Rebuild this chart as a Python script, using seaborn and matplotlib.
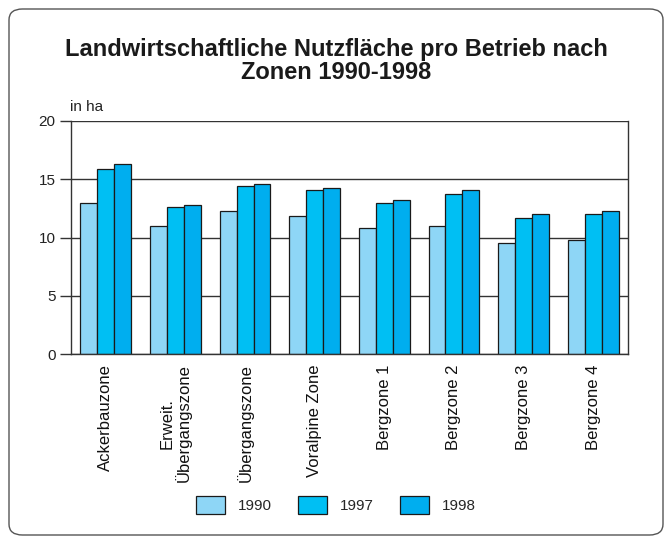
import matplotlib
matplotlib.use("Agg")
import matplotlib.pyplot as plt
import seaborn as sns
import pandas as pd
from matplotlib.patches import FancyBboxPatch, Patch

categories = ["Ackerbauzone", "Erweit.\nÜbergangszone", "Übergangszone", "Voralpine Zone",
              "Bergzone 1", "Bergzone 2", "Bergzone 3", "Bergzone 4"]
years = ["1990", "1997", "1998"]
v1990 = [13.0, 11.0, 12.3, 11.85, 10.85, 10.95, 9.55, 9.75]
v1997 = [15.9, 12.65, 14.4, 14.05, 12.95, 13.75, 11.7, 12.05]
v1998 = [16.3, 12.8, 14.55, 14.25, 13.2, 14.1, 12.05, 12.3]
colors = ["#8ED6F6", "#00BFF3", "#00AEEF"]

rows = []
for y, vals in zip(years, [v1990, v1997, v1998]):
    for c, v in zip(categories, vals):
        rows.append({"Zone": c, "Jahr": y, "Wert": v})
df = pd.DataFrame(rows)

sns.set_style("white")
plt.rcParams['font.family'] = ['Liberation Sans', 'DejaVu Sans']

fig = plt.figure(figsize=(6.72, 5.44), dpi=100)
fig.patches.append(FancyBboxPatch((9/672, 9/544), 654/672, 526/544,
                                  boxstyle="round,pad=0,rounding_size=0.02",
                                  transform=fig.transFigure, fill=False,
                                  edgecolor="#555555", linewidth=1.0))
ax = fig.add_axes([71/672, 1-354/544, 557/672, 233/544])
sns.barplot(data=df, x="Zone", y="Wert", hue="Jahr", palette=colors, ax=ax,
            width=0.73, gap=0, saturation=1, edgecolor="#1a1a1a", linewidth=0.9,
            legend=False)

ax.set_ylim(0, 20)
ax.set_yticks([0, 5, 10, 15, 20])
ax.set_xlim(-0.5, len(categories) - 0.5)
ax.yaxis.grid(True, color="#333333", linewidth=1.0)
ax.set_axisbelow(True)
for s in ["left", "right", "bottom"]:
    ax.spines[s].set_visible(True)
    ax.spines[s].set_color("#333333")
    ax.spines[s].set_linewidth(1.0)
ax.spines["top"].set_visible(False)
ax.tick_params(axis="y", which="both", left=True, length=8, width=1.0, color="#333333",
               labelsize=11, pad=3, labelcolor="#222222")
ax.tick_params(axis="x", bottom=False, labelsize=12, pad=4, labelcolor="#111111")
ax.set_xticks(range(len(categories)))
ax.set_xticklabels(categories, rotation=90, va="top", ha="center", multialignment="center",
                   linespacing=1.0)
ax.set_xlabel("")
ax.set_ylabel("")

fig.text(70/672, 1-107/544, "in ha", fontsize=11, ha="left", va="center", color="#222222")
fig.text(336/672, 1-61/544, "Landwirtschaftliche Nutzfläche pro Betrieb nach\nZonen 1990-1998",
         fontsize=17, fontweight="bold", ha="center", va="center", linespacing=1.0,
         color="#1a1a1a")

handles = [Patch(facecolor=c, edgecolor="#1a1a1a", linewidth=0.9) for c in colors]
fig.legend(handles, years, loc="center", bbox_to_anchor=(336/672, 1-505/544), ncol=3,
           frameon=False, fontsize=11, handlelength=1.9, handleheight=1.4,
           columnspacing=1.75, handletextpad=0.8)

fig.savefig("out.png", dpi=100)
